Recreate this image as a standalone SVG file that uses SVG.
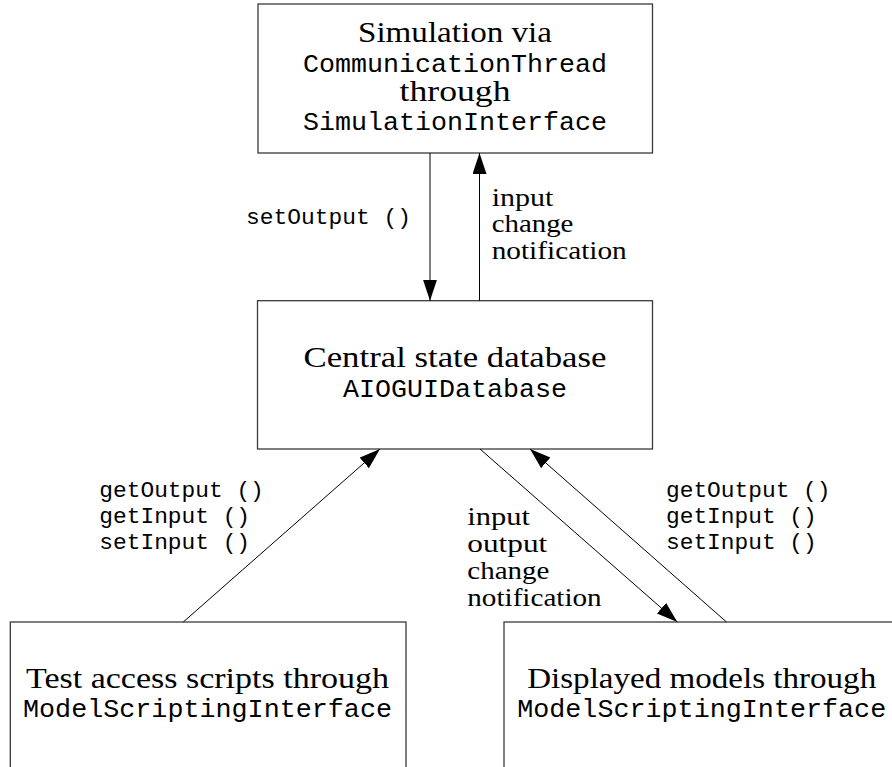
<svg xmlns="http://www.w3.org/2000/svg" width="892" height="767" viewBox="0 0 892 767">
  <style>
    .box { fill: #ffffff; stroke: #3a3a3a; stroke-width: 1.3; }
    .edge { fill: none; stroke: #000000; stroke-width: 1; }
    .rm { font-family: "Liberation Serif", "Times New Roman", serif; font-size: 29.5px; fill: #000; }
    .tt { font-family: "Liberation Mono", "Courier New", monospace; font-size: 25px; fill: #000; }
    .lrm { font-family: "Liberation Serif", "Times New Roman", serif; font-size: 26px; fill: #000; }
    .ltt { font-family: "Liberation Mono", "Courier New", monospace; font-size: 21.5px; fill: #000; }
    .c { text-anchor: middle; }
  </style>
  <defs>
    <marker id="head" markerUnits="userSpaceOnUse" markerWidth="24" markerHeight="16" refX="21" refY="7" orient="auto">
      <path d="M0,0 L21,7 L0,14 Z" fill="#000"/>
    </marker>
  </defs>

  <g id="simulation">
    <rect class="box" x="258" y="4" width="394.5" height="149"/>
    <text class="rm c" x="455" y="41.7" textLength="194" lengthAdjust="spacingAndGlyphs">Simulation via</text>
    <text class="tt c" x="455" y="71.5" textLength="304" lengthAdjust="spacingAndGlyphs">CommunicationThread</text>
    <text class="rm c" x="455" y="100.7" textLength="111" lengthAdjust="spacingAndGlyphs">through</text>
    <text class="tt c" x="455" y="130.3" textLength="304" lengthAdjust="spacingAndGlyphs">SimulationInterface</text>
  </g>

  <g id="database">
    <rect class="box" x="257.5" y="300.7" width="395" height="148.3"/>
    <text class="rm c" x="455" y="367.3" textLength="303" lengthAdjust="spacingAndGlyphs">Central state database</text>
    <text class="tt c" x="455" y="397.3" textLength="224" lengthAdjust="spacingAndGlyphs">AIOGUIDatabase</text>
  </g>

  <g id="test-scripts">
    <rect class="box" x="10.3" y="622" width="395.7" height="160"/>
    <text class="rm c" x="207.5" y="688.3" textLength="363" lengthAdjust="spacingAndGlyphs">Test access scripts through</text>
    <text class="tt c" x="207.5" y="717.3" textLength="369" lengthAdjust="spacingAndGlyphs">ModelScriptingInterface</text>
  </g>

  <g id="displayed-models">
    <rect class="box" x="504" y="622" width="400" height="160"/>
    <text class="rm c" x="701.7" y="688.3" textLength="349" lengthAdjust="spacingAndGlyphs">Displayed models through</text>
    <text class="tt c" x="701.7" y="717.3" textLength="369" lengthAdjust="spacingAndGlyphs">ModelScriptingInterface</text>
  </g>

  <g id="connectors">
    <line class="edge" x1="430" y1="153" x2="430" y2="300.7" marker-end="url(#head)"/>
    <line class="edge" x1="479.5" y1="300.7" x2="479.5" y2="153" marker-end="url(#head)"/>
    <line class="edge" x1="183.3" y1="622" x2="380" y2="449" marker-end="url(#head)"/>
    <line class="edge" x1="480" y1="449" x2="677.3" y2="622" marker-end="url(#head)"/>
    <line class="edge" x1="726.5" y1="622" x2="530" y2="449" marker-end="url(#head)"/>

    <text class="ltt" x="246" y="224" textLength="165" lengthAdjust="spacingAndGlyphs">setOutput ()</text>
    <text class="lrm" x="491.7" y="205.5" textLength="61.7" lengthAdjust="spacingAndGlyphs">input</text>
    <text class="lrm" x="491.7" y="232" textLength="81.7" lengthAdjust="spacingAndGlyphs">change</text>
    <text class="lrm" x="491.7" y="258.5" textLength="135" lengthAdjust="spacingAndGlyphs">notification</text>

    <text class="ltt" x="99.3" y="497.3" textLength="164.5" lengthAdjust="spacingAndGlyphs">getOutput ()</text>
    <text class="ltt" x="99.3" y="523" textLength="150.8" lengthAdjust="spacingAndGlyphs">getInput ()</text>
    <text class="ltt" x="99.3" y="548.7" textLength="150.8" lengthAdjust="spacingAndGlyphs">setInput ()</text>

    <text class="lrm" x="467.3" y="525" textLength="62.7" lengthAdjust="spacingAndGlyphs">input</text>
    <text class="lrm" x="467.3" y="552" textLength="80" lengthAdjust="spacingAndGlyphs">output</text>
    <text class="lrm" x="467.3" y="579" textLength="82" lengthAdjust="spacingAndGlyphs">change</text>
    <text class="lrm" x="467.3" y="606" textLength="134.4" lengthAdjust="spacingAndGlyphs">notification</text>

    <text class="ltt" x="666" y="497.3" textLength="164.5" lengthAdjust="spacingAndGlyphs">getOutput ()</text>
    <text class="ltt" x="666" y="523" textLength="150.8" lengthAdjust="spacingAndGlyphs">getInput ()</text>
    <text class="ltt" x="666" y="548.7" textLength="150.8" lengthAdjust="spacingAndGlyphs">setInput ()</text>
  </g>
</svg>
